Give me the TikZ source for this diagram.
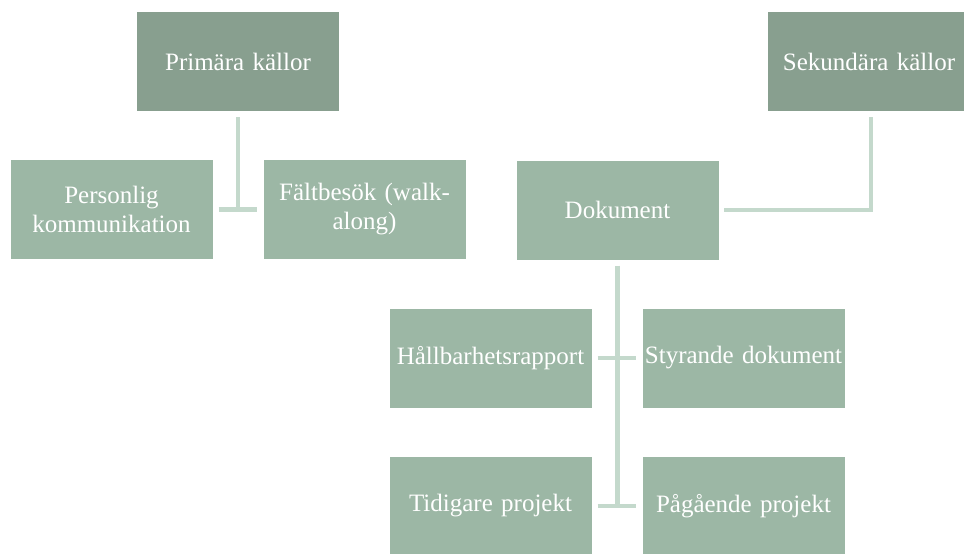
\documentclass[tikz,border=0pt]{standalone}
\usepackage{fontspec}
\setmainfont{Liberation Serif}
\definecolor{darkbox}{HTML}{889F8F}
\definecolor{lightbox}{HTML}{9CB7A5}
\definecolor{conn}{HTML}{C4D9CC}
\tikzset{
  box/.style={rectangle, minimum width=202pt, minimum height=99pt, inner sep=0pt,
    text=white, font=\fontsize{25}{29}\selectfont, align=center, text width=202pt},
  darkb/.style={box, fill=darkbox},
  lightb/.style={box, fill=lightbox},
  link/.style={draw=conn, line width=4.5pt}
}
\begin{document}
\begin{tikzpicture}[x=1pt,y=-1pt]
\useasboundingbox (0,0) rectangle (964,554);
\clip (0,0) rectangle (964,554);
\node[darkb] (prim) at (238,61.5) {Primära källor};
\node[darkb] (sek) at (869,61.5) {Sekundära källor};
\node[lightb] (pers) at (111.5,209.5) {Personlig\\kommunikation};
\node[lightb] (falt) at (364.5,209.5) {Fältbesök (walk-\\along)};
\node[lightb] (dok) at (617.5,210) {Dokument};
\node[lightb] (hall) at (490.5,358) {Hållbarhetsrapport};
\node[lightb] (styr) at (743.5,358) {Styrande dokument};
\node[lightb] (tid) at (490.5,506) {Tidigare projekt};
\node[lightb] (pag) at (743.5,506) {Pågående projekt};
% Primära
\draw[link] ([yshift=-6pt]prim.south) -- (prim.south |- pers.east);
\draw[link] ([xshift=6pt]pers.east) -- ([xshift=-6pt]falt.west);
% Sekundära
\draw[link] ([xshift=2pt,yshift=-6pt]sek.south) |- ([xshift=5pt]dok.east);
% Dokument
\draw[link] ([yshift=-6pt]dok.south) -- (dok.south |- tid.east);
\draw[link] ([xshift=6pt]hall.east) -- ([xshift=-6pt]styr.west);
\draw[link] ([xshift=6pt]tid.east) -- ([xshift=-6pt]pag.west);
\end{tikzpicture}
\end{document}
